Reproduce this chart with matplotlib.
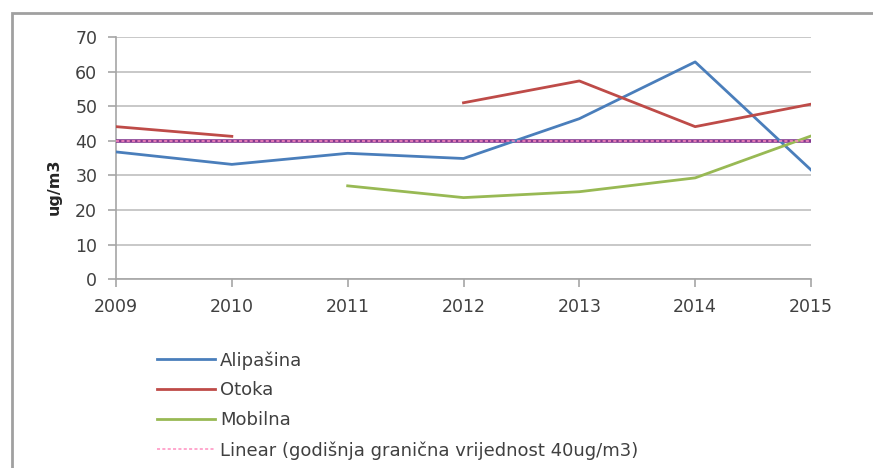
import matplotlib
matplotlib.use("Agg")
import matplotlib.pyplot as plt
import matplotlib.patches as mpatches
import numpy as np

years = [2009, 2010, 2011, 2012, 2013, 2014, 2015]
alipasina = [36.8, 33.2, 36.4, 34.9, 46.4, 62.8, 31.6]
otoka = [44.1, 41.3, np.nan, 51.0, 57.3, 44.1, 50.6]
mobilna = [np.nan, np.nan, 27.0, 23.6, 25.3, 29.3, 41.4]
limit = [40, 40, 40, 40, 40, 40, 40]
series_names = ["Alipašina", "Otoka", "Mobilna"]
trend_label = "Linear (godišnja granična vrijednost 40ug/m3)"
y_label = "ug/m3"

plt.rcParams['font.family'] = ['DejaVu Sans']

fig = plt.figure(figsize=(8.73, 4.68), dpi=100)
W, H = 873, 468
ax = fig.add_axes([116 / W, 1 - 279.3 / H, (811 - 116) / W, (279.3 - 37) / H])

txt = '#404040'
grid_c = '#BFBFBF'

ax.plot(years, limit, color='#84388F', lw=2.6, zorder=3)
ax.plot(years, alipasina, color='#4A7EBB', lw=2.0, label=series_names[0], zorder=4)
ax.plot(years, otoka, color='#BE4B48', lw=2.0, label=series_names[1], zorder=4)
ax.plot(years, mobilna, color='#98B954', lw=2.0, label=series_names[2], zorder=4)
# linear trend of the limit series
coef = np.polyfit(years, limit, 1)
trend = np.polyval(coef, years)
ax.plot(years, trend, color='#FF8FC0', lw=1.1, ls=(0, (2, 1.5)), label=trend_label, zorder=5)

ax.set_xlim(2009, 2015)
ax.set_ylim(0, 70)
ax.set_yticks(range(0, 71, 10))
ax.set_xticks(years)
ax.set_xticklabels([str(y) for y in years])
ax.yaxis.grid(True, color=grid_c, lw=1.2)
ax.set_axisbelow(True)
for s in ['top', 'right']:
    ax.spines[s].set_visible(False)
for s in ['left', 'bottom']:
    ax.spines[s].set_color('#A6A6A6')
    ax.spines[s].set_linewidth(1.2)
ax.tick_params(axis='both', colors='#A6A6A6', labelcolor=txt, labelsize=12.5, length=5.5, width=1.2)
ax.tick_params(axis='y', pad=8)
ax.tick_params(axis='x', pad=8)

fig.text(54 / W, 1 - 187 / H, y_label, rotation=90, ha='center', va='center',
         fontsize=11.5, fontweight='bold', color='#262626')

handles, labels = ax.get_legend_handles_labels()
leg = fig.legend(handles, labels, loc='upper left', bbox_to_anchor=(157 / W, 1 - 351 / H),
                 frameon=False, fontsize=13, handlelength=3.2, handletextpad=0.3,
                 labelspacing=0.66, borderaxespad=0, borderpad=0)
for t in leg.get_texts():
    t.set_color(txt)

# outer chart frame (cropped at right and bottom)
frame = mpatches.Rectangle((11.5 / W, -0.1), 1.2, 1.1 - 13 / H, transform=fig.transFigure,
                           fill=False, edgecolor='#A0A0A0', lw=2.0, clip_on=False)
fig.patches.append(frame)

fig.savefig('out.png', dpi=100, facecolor='white')
